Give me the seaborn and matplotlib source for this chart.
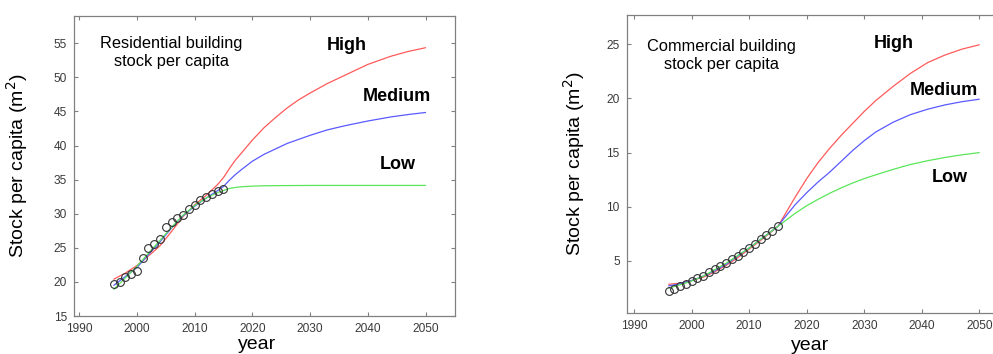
import matplotlib
matplotlib.use("Agg")
import matplotlib.pyplot as plt
import seaborn as sns
import pandas as pd

# ---------------- data ----------------
obs_years = [1996, 1997, 1998, 1999, 2000, 2001, 2002, 2003, 2004, 2005,
             2006, 2007, 2008, 2009, 2010, 2011, 2012, 2013, 2014, 2015]
res_obs = [19.68, 20.02, 20.66, 21.1, 21.54, 23.58, 24.95, 25.63, 26.36, 28.06,
           28.79, 29.33, 29.87, 30.64, 31.28, 31.96, 32.5, 32.93, 33.32, 33.57]
com_obs = [2.27, 2.45, 2.68, 2.9, 3.15, 3.4, 3.65, 3.95, 4.25, 4.55,
           4.85, 5.2, 5.5, 5.85, 6.2, 6.6, 7.0, 7.4, 7.75, 8.2]

res_years = [1996, 1998, 2000, 2002, 2004, 2006, 2008, 2010, 2012, 2014, 2015,
             2016, 2017, 2018, 2020, 2022, 2024, 2026, 2028, 2030, 2033, 2036,
             2040, 2044, 2047, 2050]
res_high = [20.4, 21.3, 22.4, 23.8, 25.3, 27.4, 29.6, 31.3, 32.7, 34.3, 35.3,
            36.6, 37.8, 38.8, 40.8, 42.6, 44.1, 45.5, 46.7, 47.7, 49.1, 50.3,
            51.9, 53.1, 53.8, 54.35]
res_med = [19.5, 20.8, 22.1, 24.0, 25.9, 27.9, 29.7, 31.1, 32.3, 33.4, 34.0,
           34.9, 35.7, 36.4, 37.7, 38.7, 39.5, 40.3, 40.9, 41.5, 42.3, 42.9,
           43.6, 44.2, 44.55, 44.85]
res_low = [18.9, 20.6, 22.3, 24.2, 26.1, 28.0, 29.8, 31.2, 32.3, 33.1, 33.4,
           33.7, 33.85, 33.95, 34.05, 34.1, 34.12, 34.13, 34.14, 34.15, 34.15,
           34.15, 34.15, 34.15, 34.15, 34.15]

com_years = [1996, 1998, 2000, 2002, 2004, 2006, 2008, 2010, 2012, 2014, 2015,
             2016, 2018, 2020, 2022, 2024, 2026, 2028, 2030, 2032, 2035, 2038,
             2041, 2044, 2047, 2050]
com_high = [2.85, 2.95, 3.2, 3.5, 4.0, 4.6, 5.3, 6.1, 6.9, 7.75, 8.2,
            9.1, 10.9, 12.6, 14.1, 15.4, 16.6, 17.7, 18.8, 19.8, 21.1, 22.3,
            23.3, 24.0, 24.55, 24.95]
com_med = [2.7, 2.9, 3.2, 3.6, 4.1, 4.7, 5.45, 6.2, 7.0, 7.8, 8.2,
           8.9, 10.2, 11.3, 12.3, 13.2, 14.2, 15.2, 16.1, 16.9, 17.8, 18.5,
           19.0, 19.4, 19.7, 19.93]
com_low = [2.5, 2.8, 3.15, 3.6, 4.2, 4.8, 5.5, 6.2, 7.0, 7.8, 8.2,
           8.6, 9.4, 10.1, 10.7, 11.25, 11.75, 12.2, 12.6, 12.95, 13.45, 13.9,
           14.25, 14.55, 14.8, 15.0]

scenarios = ["High", "Medium", "Low"]
x_ticks = [1990, 2000, 2010, 2020, 2030, 2040, 2050]
res_yticks = [15, 20, 25, 30, 35, 40, 45, 50, 55]
com_yticks = [5, 10, 15, 20, 25]

# ---------------- style ----------------
sns.set_theme(style="white")
plt.rcParams["font.family"] = ["Liberation Sans", "DejaVu Sans"]
palette = {"High": "#ff5a5a", "Medium": "#5a5aff", "Low": "#5ae65a"}
spine_col = "#808080"
tick_col = "#3a3a3a"


def long_df(years, high, med, low):
    frames = []
    for name, vals in zip(scenarios, [high, med, low]):
        frames.append(pd.DataFrame({"year": years, "value": vals, "scenario": name}))
    return pd.concat(frames, ignore_index=True)


fig = plt.figure(figsize=(9.93, 3.54), dpi=100)
ax1 = fig.add_axes([0.0745, 0.1073, 0.3837, 0.8475])
ax2 = fig.add_axes([0.6311, 0.1158, 0.3840, 0.8418])

panels = [
    (ax1, long_df(res_years, res_high, res_med, res_low), res_obs,
     (1989.1, 2055.1), (15, 59), res_yticks,
     "Residential building\nstock per capita", (2005.9, 53.7),
     {"High": (2036.3, 54.65), "Medium": (2045.1, 47.2), "Low": (2045.2, 37.2)},
     -0.115, -0.068),
    (ax2, long_df(com_years, com_high, com_med, com_low), com_obs,
     (1988.7, 2055.0), (0.2, 27.7), com_yticks,
     "Commercial building\nstock per capita", (2005.25, 23.94),
     {"High": (2035.2, 25.06), "Medium": (2043.9, 20.7), "Low": (2044.8, 12.7)},
     -0.104, -0.080),
]

for (ax, df, obs, xlim, ylim, yticks, title, tpos, labels, ylx, xly) in panels:
    sns.lineplot(data=df, x="year", y="value", hue="scenario", palette=palette,
                 hue_order=scenarios, linewidth=0.9, legend=False, ax=ax,
                 estimator=None)
    obs_df = pd.DataFrame({"year": obs_years, "value": obs})
    sns.lineplot(data=obs_df, x="year", y="value", ax=ax, linestyle="",
                 marker="o", markersize=5.6, markerfacecolor="none",
                 markeredgecolor="#333333", markeredgewidth=0.8,
                 estimator=None, legend=False)
    ax.set_xlim(*xlim)
    ax.set_ylim(*ylim)
    ax.set_xticks(x_ticks)
    ax.set_yticks(yticks)
    ax.tick_params(direction="in", length=3, width=0.8, colors=spine_col,
                   labelcolor=tick_col, labelsize=8.6, top=True, right=True,
                   bottom=True, left=True, pad=5)
    for s in ax.spines.values():
        s.set_visible(True)
        s.set_color(spine_col)
        s.set_linewidth(0.9)
    ax.set_xlabel("year", fontsize=14, color="black")
    ax.set_ylabel("Stock per capita (m$^2$)", fontsize=14, color="black")
    ax.yaxis.set_label_coords(ylx, 0.5)
    ax.xaxis.set_label_coords(0.48, xly)
    ax.text(tpos[0], tpos[1], title, fontsize=11.8, ha="center", va="center",
            multialignment="center", linespacing=1.25, color="black")
    for name, (lx, ly) in labels.items():
        ax.text(lx, ly, name, fontsize=13, fontweight="bold", ha="center",
                va="center", color="black")

fig.savefig("out.png", dpi=100)
